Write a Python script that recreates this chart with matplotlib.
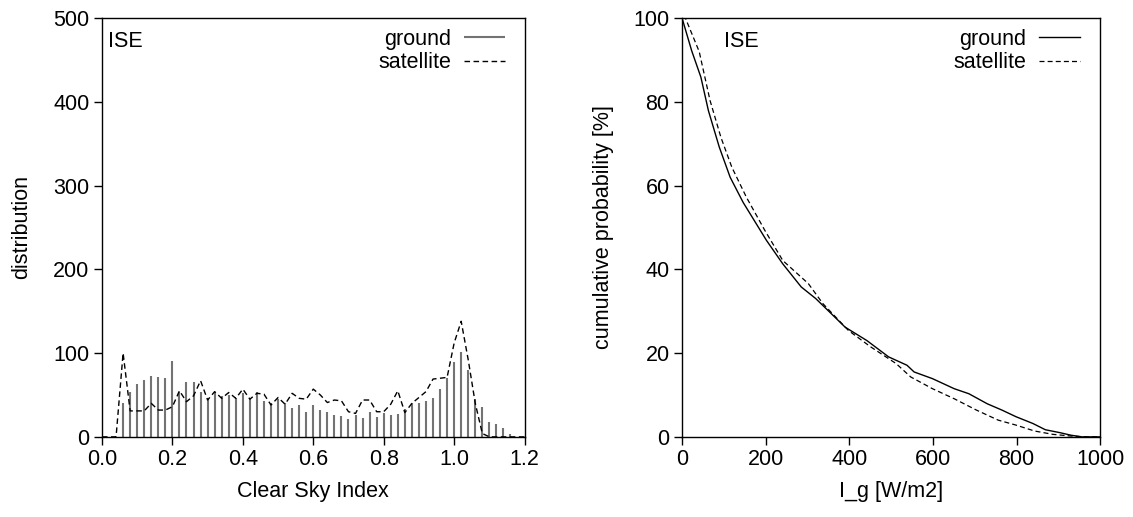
import numpy as np
import matplotlib
matplotlib.use("Agg")
import matplotlib.pyplot as plt

plt.rcParams['font.family'] = ['Liberation Sans', 'DejaVu Sans']
plt.rcParams['font.size'] = 15.5

# clear sky index histogram, bins of 0.02
csi_bins = np.round(np.arange(0.0, 1.2001, 0.02), 2)
ground_hist = [0, 0, 0, 41, 54, 63, 68, 73, 71, 70,
               91, 53, 66, 65, 53, 47, 53, 49, 50, 47,
               52, 45, 53, 43, 40, 45, 40, 35, 38, 30,
               38, 32, 30, 26, 25, 21, 26, 22, 30, 24,
               28, 26, 27, 33, 40, 40, 43, 46, 57, 70,
               89, 101, 80, 45, 36, 18, 15, 11, 3, 0, 0]
satellite_hist = [0, 0, 0, 100, 31, 31, 31, 40, 32, 32,
                  36, 55, 42, 49, 67, 44, 54, 46, 53, 46,
                  57, 45, 52, 51, 38, 47, 39, 52, 46, 45,
                  57, 50, 41, 44, 43, 30, 28, 44, 44, 30,
                  30, 39, 55, 29, 40, 47, 54, 69, 70, 71,
                  112, 138, 92, 40, 4, 0, 0, 0, 0, 0, 0]

# cumulative probability of global irradiance
ground_irr = [0, 23, 45, 63, 89, 115, 146, 202, 241, 285, 320, 390, 442,
              494, 538, 555, 599, 651, 686, 730, 765, 799, 839, 869, 904,
              930, 956, 1000]
ground_cum = [100, 92.2, 85.9, 77.9, 69.2, 62.0, 56.0, 46.9, 41.3, 35.8,
              33.0, 26.2, 23.0, 19.1, 17.1, 15.5, 13.9, 11.5, 10.3, 7.9,
              6.4, 4.8, 3.2, 1.7, 1.0, 0.4, 0.0, 0.0]
sat_irr = [0, 8, 41, 67, 93, 119, 154, 198, 241, 302, 337, 398, 451, 512,
           547, 599, 651, 704, 756, 799, 843, 887, 930, 965, 1000]
sat_cum = [100, 100, 92.0, 80.3, 71.5, 64.4, 57.2, 49.3, 42.1, 36.6, 31.8,
           25.4, 21.5, 17.5, 14.3, 11.5, 9.1, 6.4, 4.0, 2.8, 1.4, 0.6, 0.2,
           0.0, 0.0]

fig = plt.figure(figsize=(11.33, 5.17), dpi=100)
ax1 = fig.add_axes([0.090, 0.155, 0.373, 0.810])
ax2 = fig.add_axes([0.602, 0.155, 0.369, 0.810])

# left: histogram
ax1.vlines(csi_bins, 0, ground_hist, color='0.45', lw=1.5, label='ground')
ax1.plot(csi_bins, satellite_hist, color='black', lw=1.0,
         linestyle=(0, (4, 2.5)), label='satellite')
ax1.set_xlim(0, 1.2)
ax1.set_ylim(0, 500)
ax1.set_xticks(np.arange(0, 1.21, 0.2))
ax1.set_xticklabels([f"{t:.1f}" for t in np.arange(0, 1.21, 0.2)])
ax1.set_yticks(range(0, 501, 100))
ax1.set_xlabel('Clear Sky Index', labelpad=8)
ax1.set_ylabel('distribution', labelpad=15)
ax1.text(0.015, 0.97, 'ISE', transform=ax1.transAxes, ha='left', va='top')

# right: cumulative probability
ax2.plot(ground_irr, ground_cum, color='black', lw=1.0, label='ground')
ax2.plot(sat_irr, sat_cum, color='black', lw=0.9,
         linestyle=(0, (4, 2.5)), label='satellite')
ax2.set_xlim(0, 1000)
ax2.set_ylim(0, 100)
ax2.set_xticks(range(0, 1001, 200))
ax2.set_yticks(range(0, 101, 20))
ax2.set_xlabel('I_g [W/m2]', labelpad=8)
ax2.set_ylabel('cumulative probability [%]', labelpad=14)
ax2.text(0.10, 0.97, 'ISE', transform=ax2.transAxes, ha='left', va='top')

for ax, xa in ((ax1, 0.953), (ax2, 0.952)):
    ax.tick_params(direction='out', length=6, width=1, pad=3)
    for s in ax.spines.values():
        s.set_linewidth(1.0)
    leg = ax.legend(loc='upper right', bbox_to_anchor=(xa, 0.974),
                    frameon=False, markerfirst=False,
                    handlelength=1.9, handletextpad=0.6, labelspacing=0.1,
                    borderaxespad=0, borderpad=0)
    for t in leg.get_texts():
        t.set_ha('right')

fig.savefig('out.png', dpi=100)
